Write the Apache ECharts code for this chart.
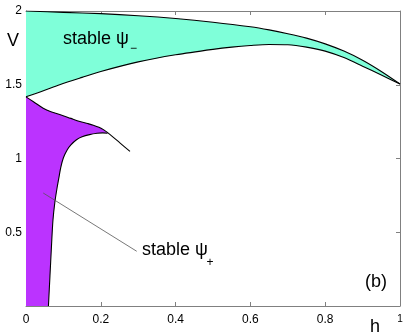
<!DOCTYPE html>
<html>
<head>
<meta charset="utf-8">
<script src="https://cdn.jsdelivr.net/npm/echarts@6/dist/echarts.min.js"></script>
<style>
  html, body { margin: 0; padding: 0; background: #fff; }
  #chart { width: 407px; height: 336px; }
</style>
</head>
<body>
<div id="chart"></div>
<script>
// boundaries of the two stability regions, [h, V]
var cyanUpper = [[0, 2.0], [0.1, 1.991], [0.2, 1.982], [0.3, 1.968], [0.4, 1.949], [0.5, 1.924],
  [0.6, 1.893], [0.65, 1.872], [0.7, 1.846], [0.75, 1.816], [0.8, 1.777], [0.85, 1.728],
  [0.9, 1.666], [0.95, 1.59], [1, 1.505]];
var cyanLower = [[0, 1.418], [0.05, 1.462], [0.09, 1.5], [0.15, 1.55], [0.2, 1.59], [0.3, 1.655],
  [0.4, 1.703], [0.5, 1.74], [0.55, 1.755], [0.6, 1.766], [0.65, 1.773], [0.7, 1.771],
  [0.75, 1.755], [0.8, 1.728], [0.85, 1.684], [0.9, 1.626], [0.95, 1.566], [1, 1.505]];
var magentaTop = [[0, 1.418], [0.02, 1.385], [0.046, 1.341], [0.065, 1.318], [0.09, 1.299],
  [0.12, 1.272], [0.144, 1.251], [0.165, 1.237], [0.18, 1.226], [0.195, 1.212], [0.208, 1.194],
  [0.225, 1.162], [0.251, 1.106], [0.278, 1.048]];
var magentaRight = [[0.06, 0], [0.064, 0.2], [0.068, 0.4], [0.072, 0.58], [0.077, 0.7],
  [0.083, 0.8], [0.088, 0.87], [0.093, 0.94], [0.1, 1.005], [0.11, 1.058], [0.12, 1.092],
  [0.135, 1.127], [0.15, 1.147], [0.17, 1.162], [0.19, 1.171], [0.205, 1.174], [0.218, 1.171]];
var pointer = [[0.046, 0.766], [0.296, 0.371]];
var xTicks = [0, 0.2, 0.4, 0.6, 0.8, 1];
var yTicks = [0, 0.5, 1, 1.5, 2];

var font = "'Liberation Sans', Arial, Helvetica, sans-serif";
var frame = '#808080';

var cyanPoly = cyanUpper.concat(cyanLower.slice().reverse());
var mergeH = magentaRight[magentaRight.length - 1][0];
var magentaPoly = magentaTop.filter(function (p) { return p[0] < mergeH; })
  .concat(magentaRight.slice().reverse())
  .concat([[0, 0]]);

function fillRegion(poly, color) {
  return {
    type: 'custom',
    coordinateSystem: 'cartesian2d',
    silent: true,
    z: 1,
    data: [[0, 0]],
    renderItem: function (params, api) {
      return {
        type: 'polygon',
        shape: { points: poly.map(function (p) { return api.coord(p); }) },
        style: { fill: color, stroke: null }
      };
    }
  };
}

function curve(data, color, width) {
  return {
    type: 'line',
    data: data,
    symbol: 'none',
    smooth: 0.3,
    silent: true,
    z: 3,
    lineStyle: { color: color, width: width }
  };
}

function axisBase(extra) {
  var a = {
    type: 'value',
    axisLine: { show: true, onZero: false, lineStyle: { color: frame, width: 1 } },
    axisTick: { show: true, inside: true, length: 4, lineStyle: { color: frame } },
    splitLine: { show: false },
    axisLabel: { color: '#000', fontSize: 12, fontFamily: font }
  };
  for (var k in extra) a[k] = extra[k];
  return a;
}

function label(x, y, text, size) {
  return {
    type: 'text', x: x, y: y, z: 100,
    style: { text: text, font: size + 'px ' + font, fill: '#000', align: 'left', verticalAlign: 'middle' }
  };
}

var chart = echarts.init(document.getElementById('chart'));
chart.setOption({
  animation: false,
  backgroundColor: '#fff',
  grid: { left: 26, right: 7, top: 11, bottom: 30 },
  xAxis: [
    axisBase({
      position: 'bottom', min: xTicks[0], max: xTicks[xTicks.length - 1], interval: 0.2,
      axisLabel: {
        color: '#000', fontSize: 12, fontFamily: font, margin: 8,
        formatter: function (v) { return v === 1 ? '{s|1}' : String(v); },
        rich: { s: { fontSize: 10, fontFamily: font, color: '#000' } }
      }
    }),
    axisBase({
      position: 'top', min: xTicks[0], max: xTicks[xTicks.length - 1], interval: 0.2,
      axisLabel: { show: false }
    })
  ],
  yAxis: [
    axisBase({
      position: 'left', min: yTicks[0], max: yTicks[yTicks.length - 1], interval: 0.5,
      axisLabel: {
        color: '#000', fontSize: 12, fontFamily: font, margin: 4,
        formatter: function (v) { return v === 0 ? '' : String(v); }
      }
    }),
    axisBase({
      position: 'right', min: yTicks[0], max: yTicks[yTicks.length - 1], interval: 0.5,
      axisLabel: { show: false }
    })
  ],
  series: [
    fillRegion(cyanPoly, '#7fffd9'),
    fillRegion(magentaPoly, '#bb33ff'),
    curve(cyanUpper, '#000', 1.1),
    curve(cyanLower, '#000', 1.1),
    curve(magentaTop, '#000', 1.1),
    curve(magentaRight, '#000', 1.1),
    {
      type: 'line', data: pointer, symbol: 'none', silent: true, z: 3,
      lineStyle: { color: '#555', width: 0.8 }
    }
  ],
  graphic: [
    label(7, 41.5, 'V', 18),
    label(370, 327, 'h', 18),
    label(365, 282.5, '(b)', 18),
    label(63, 39, 'stable ψ', 18),
    label(130, 49, '\u2212', 12),
    label(142, 250.5, 'stable ψ', 18),
    label(206.5, 263, '+', 12)
  ]
});
</script>
</body>
</html>
